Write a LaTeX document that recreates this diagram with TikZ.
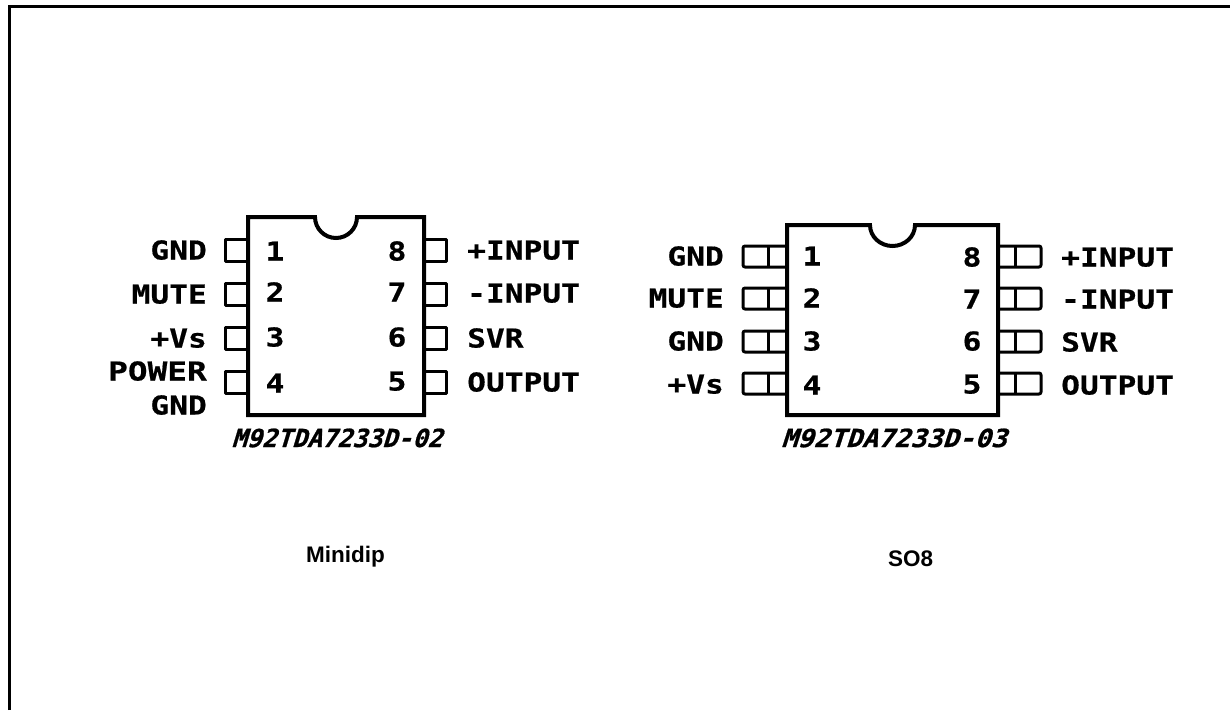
\documentclass[tikz,border=0pt]{standalone}
\usepackage{fontspec}
\setmainfont{Liberation Sans}
\newfontfamily\cadfont[FakeStretch=1.2,FakeBold=0.6]{DejaVu Sans Mono Bold}
\newfontfamily\cadslant[FakeSlant=0.3,FakeBold=0.8]{DejaVu Sans Mono Bold}
\tikzset{
  body/.style={line width=4pt,line join=miter},
  pin/.style={line width=3pt,line join=round},
  cadtext/.style={inner sep=0pt,text height=17pt,text depth=0pt,font=\cadfont\fontsize{26}{26}\selectfont},
  leftlabel/.style={cadtext,anchor=east},
  rightlabel/.style={cadtext,anchor=west},
  pinnum/.style={cadtext,anchor=center},
  partlabel/.style={inner sep=0pt,anchor=center,font=\cadslant\fontsize{25}{25}\selectfont},
  caption/.style={inner sep=0pt,anchor=base,font=\bfseries\fontsize{22.5}{22.5}\selectfont},
}
\begin{document}
\begin{tikzpicture}[x=1pt,y=-1pt]
\useasboundingbox (0,0) rectangle (1230,710);
\fill[white] (0,0) rectangle (1230,710);
% frame
\draw[line width=3pt] (9,710) -- (9,6.5) -- (1230,6.5);
% Minidip body
\draw[body] (248,217) -- (315,217) arc[start angle=180,end angle=0,x radius=21,y radius=21] -- (424,217) -- (424,415) -- (248,415) -- cycle;
% Minidip pins
\foreach \y in {239,283,327,371}{
  \draw[pin] (248,\y) -- (225,\y) -- (225,\y+22) -- (248,\y+22);
  \draw[pin] (424,\y) -- (446,\y) -- (446,\y+22) -- (424,\y+22);
}
\node[pinnum] (a1) at (275,252) {1};
\node[pinnum] (a2) at (275,293) {2};
\node[pinnum] (a3) at (275,338) {3};
\node[pinnum] (a4) at (275,384) {4};
\node[pinnum] (a8) at (397,252) {8};
\node[pinnum] (a7) at (397,293) {7};
\node[pinnum] (a6) at (397,338) {6};
\node[pinnum] (a5) at (397,382) {5};
\node[leftlabel] (la1) at (207,251) {GND};
\node[leftlabel] (la2) at (207,295) {MUTE};
\node[leftlabel] (la3) at (207,339) {+Vs};
\node[leftlabel,xscale=1.05] (la4) at (207,372) {POWER};
\node[leftlabel] (la5) at (207,406) {GND};
\node[rightlabel] (ra8) at (467,251) {+INPUT};
\node[rightlabel] (ra7) at (467,294) {-INPUT};
\node[rightlabel] (ra6) at (467,339) {SVR};
\node[rightlabel] (ra5) at (467,383) {OUTPUT};
\node[partlabel] (pa) at (337,438) {M92TDA7233D-02};
\node[caption] (ca) at (345.5,562) {Minidip};
% SO8 body
\draw[body] (787,225) -- (870,225) arc[start angle=180,end angle=0,x radius=22.5,y radius=21] -- (998,225) -- (998,415) -- (787,415) -- cycle;
% SO8 pins
\foreach \y in {246,288,331,373}{
  \draw[pin,rounded corners=2pt] (787,\y) -- (743,\y) -- (743,\y+21) -- (787,\y+21);
  \draw[pin] (768,\y) -- (768,\y+21);
  \draw[pin,rounded corners=2pt] (998,\y) -- (1041,\y) -- (1041,\y+21) -- (998,\y+21);
  \draw[pin] (1015,\y) -- (1015,\y+21);
}
\node[pinnum] (b1) at (812,257) {1};
\node[pinnum] (b2) at (812,299) {2};
\node[pinnum] (b3) at (812,342) {3};
\node[pinnum] (b4) at (812,386) {4};
\node[pinnum] (b8) at (972,258) {8};
\node[pinnum] (b7) at (972,300) {7};
\node[pinnum] (b6) at (972,342) {6};
\node[pinnum] (b5) at (972,385) {5};
\node[leftlabel] (lb1) at (724,257) {GND};
\node[leftlabel] (lb2) at (724,299) {MUTE};
\node[leftlabel] (lb3) at (724,342) {GND};
\node[leftlabel] (lb4) at (724,385) {+Vs};
\node[rightlabel] (rb8) at (1061,258) {+INPUT};
\node[rightlabel] (rb7) at (1061,300) {-INPUT};
\node[rightlabel] (rb6) at (1061,343) {SVR};
\node[rightlabel] (rb5) at (1061,386) {OUTPUT};
\node[partlabel,xscale=1.07] (pb) at (894,438) {M92TDA7233D-03};
\node[caption] (cb) at (910.5,566) {SO8};
\end{tikzpicture}
\end{document}
